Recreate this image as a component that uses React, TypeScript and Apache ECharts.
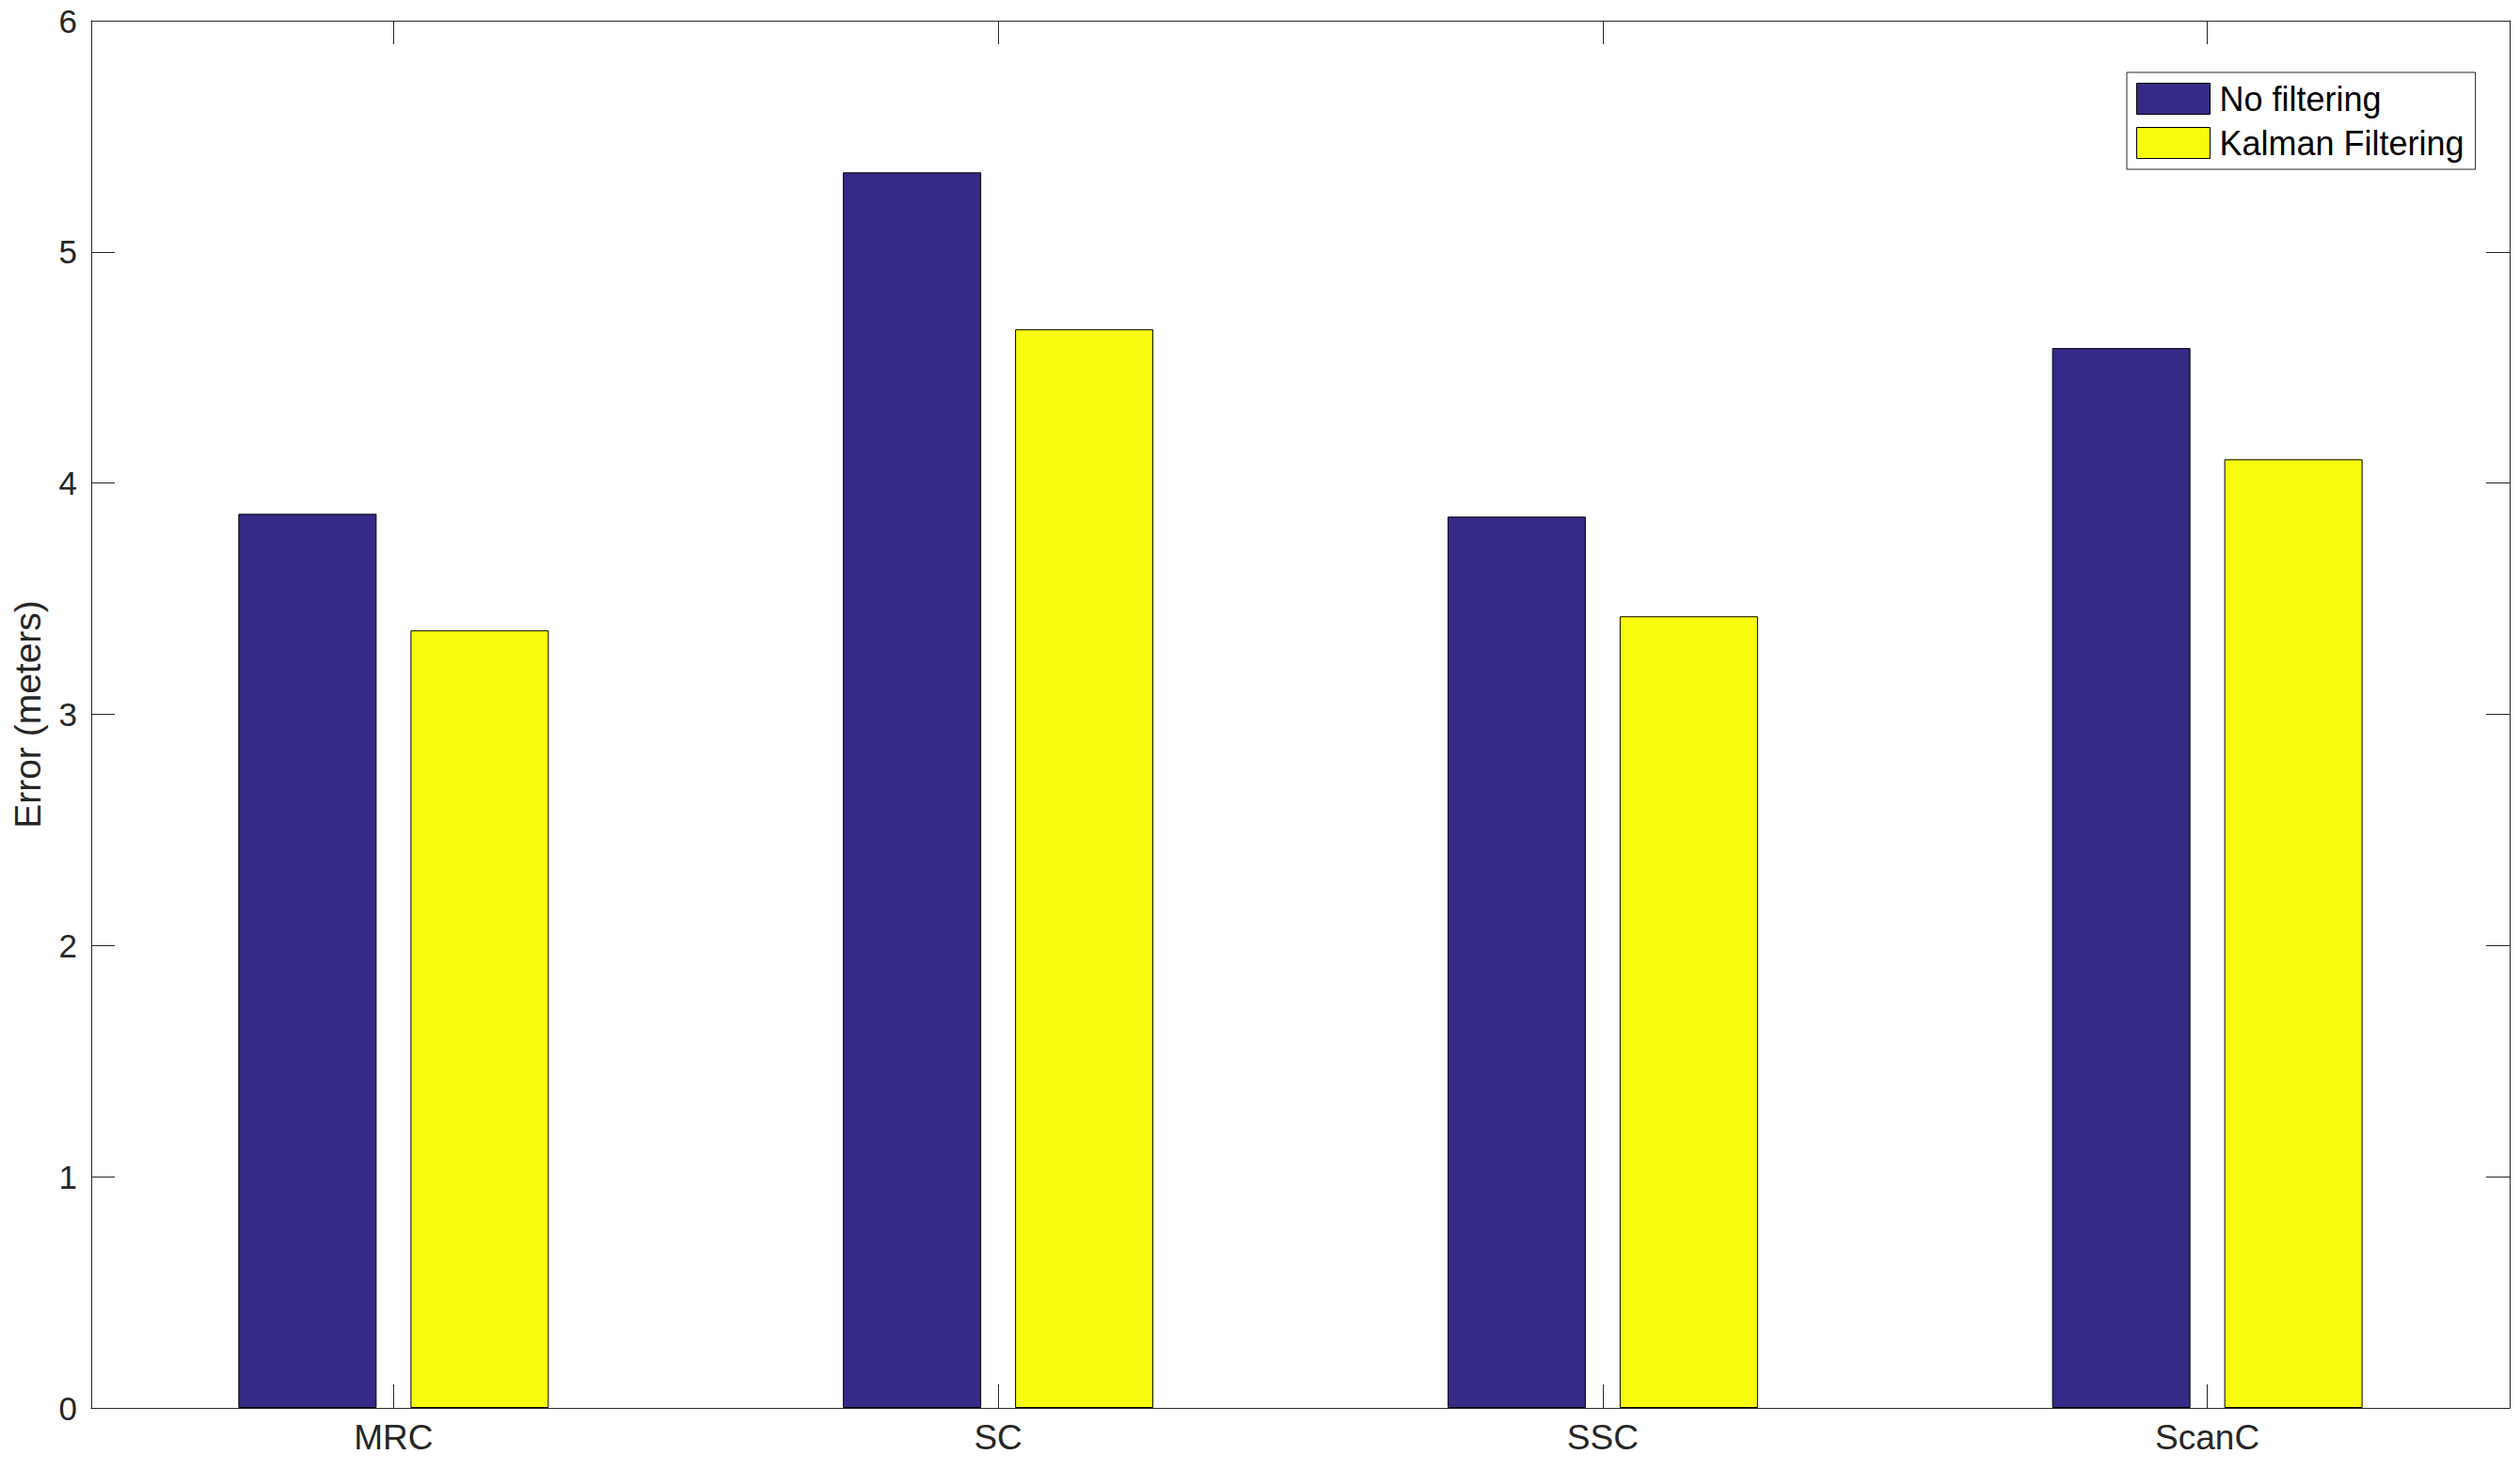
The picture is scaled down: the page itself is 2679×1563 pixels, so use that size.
import React, { useEffect, useRef } from "react";
import * as echarts from "echarts";

const categories = ["MRC", "SC", "SSC", "ScanC"];
const noFiltering = [3.867, 5.344, 3.855, 4.584];
const kalmanFiltering = [3.363, 4.665, 3.424, 4.103];
const seriesNames = ["No filtering", "Kalman Filtering"];
const yMin = 0;
const yMax = 6;
const yInterval = 1;

const FONT = "Liberation Sans, Arial, Helvetica, sans-serif";
const AXIS_COLOR = "#262626";
const BLUE = "#352a87";
const YELLOW = "#f9fb0e";

export default function App() {
  const ref = useRef<HTMLDivElement>(null);
  useEffect(() => {
    if (!ref.current) return;
    const chart = echarts.init(ref.current, null, { renderer: "svg" });
    const tickInside = { show: true, inside: true, length: 25, interval: 0, alignWithLabel: true, lineStyle: { color: AXIS_COLOR, width: 1 } };
    const line = { show: true, onZero: false, lineStyle: { color: AXIS_COLOR, width: 1 } };
    chart.setOption({
      animation: false,
      backgroundColor: "#ffffff",
      grid: { left: 97, right: 11, top: 22, bottom: 66, containLabel: false, outerBoundsMode: "none" },
      legend: {
        orient: "vertical",
        left: 2261,
        top: 77,
        itemWidth: 78,
        itemHeight: 33,
        itemGap: 11,
        padding: [10, 12, 10, 10],
        borderColor: AXIS_COLOR,
        borderWidth: 1,
        backgroundColor: "#ffffff",
        textStyle: { fontFamily: FONT, fontSize: 36, color: "#000000", padding: [0, 0, 0, 5], lineHeight: 33 },
        data: [
          { name: seriesNames[0], icon: "rect", itemStyle: { color: BLUE, borderColor: "#000", borderWidth: 1 } },
          { name: seriesNames[1], icon: "rect", itemStyle: { color: YELLOW, borderColor: "#000", borderWidth: 1 } },
        ],
      },
      xAxis: [
        {
          type: "category",
          data: categories,
          position: "bottom",
          axisLine: line,
          axisTick: tickInside,
          axisLabel: { fontFamily: FONT, fontSize: 37, color: AXIS_COLOR, margin: 13, interval: 0 },
          splitLine: { show: false },
        },
        {
          type: "category",
          data: categories,
          position: "top",
          axisLine: line,
          axisTick: tickInside,
          axisLabel: { show: true, interval: 0, formatter: () => "" },
          splitLine: { show: false },
        },
      ],
      yAxis: [
        {
          type: "value",
          min: yMin,
          max: yMax,
          interval: yInterval,
          position: "left",
          name: "Error (meters)",
          nameLocation: "middle",
          nameGap: 48,
          nameTextStyle: { fontFamily: FONT, fontSize: 39, color: AXIS_COLOR },
          axisLine: line,
          axisTick: { show: true, inside: true, length: 25, lineStyle: { color: AXIS_COLOR, width: 1 } },
          axisLabel: { fontFamily: FONT, fontSize: 35, color: AXIS_COLOR, margin: 15 },
          splitLine: { show: false },
        },
        {
          type: "value",
          min: yMin,
          max: yMax,
          interval: yInterval,
          position: "right",
          axisLine: line,
          axisTick: { show: true, inside: true, length: 25, lineStyle: { color: AXIS_COLOR, width: 1 } },
          axisLabel: { show: false },
          splitLine: { show: false },
        },
      ],
      series: [
        {
          name: seriesNames[0],
          type: "bar",
          data: noFiltering,
          barWidth: 147,
          barGap: "24.5%",
          itemStyle: { color: BLUE, borderColor: "#000000", borderWidth: 1 },
          emphasis: { disabled: true },
        },
        {
          name: seriesNames[1],
          type: "bar",
          data: kalmanFiltering,
          barWidth: 147,
          barGap: "24.5%",
          itemStyle: { color: YELLOW, borderColor: "#000000", borderWidth: 1 },
          emphasis: { disabled: true },
        },
      ],
    });
    return () => chart.dispose();
  }, []);
  return (
    <div
      ref={ref}
      style={{ position: "fixed", left: 0, top: 0, width: 2679, height: 1563, background: "#fff" }}
    />
  );
}
